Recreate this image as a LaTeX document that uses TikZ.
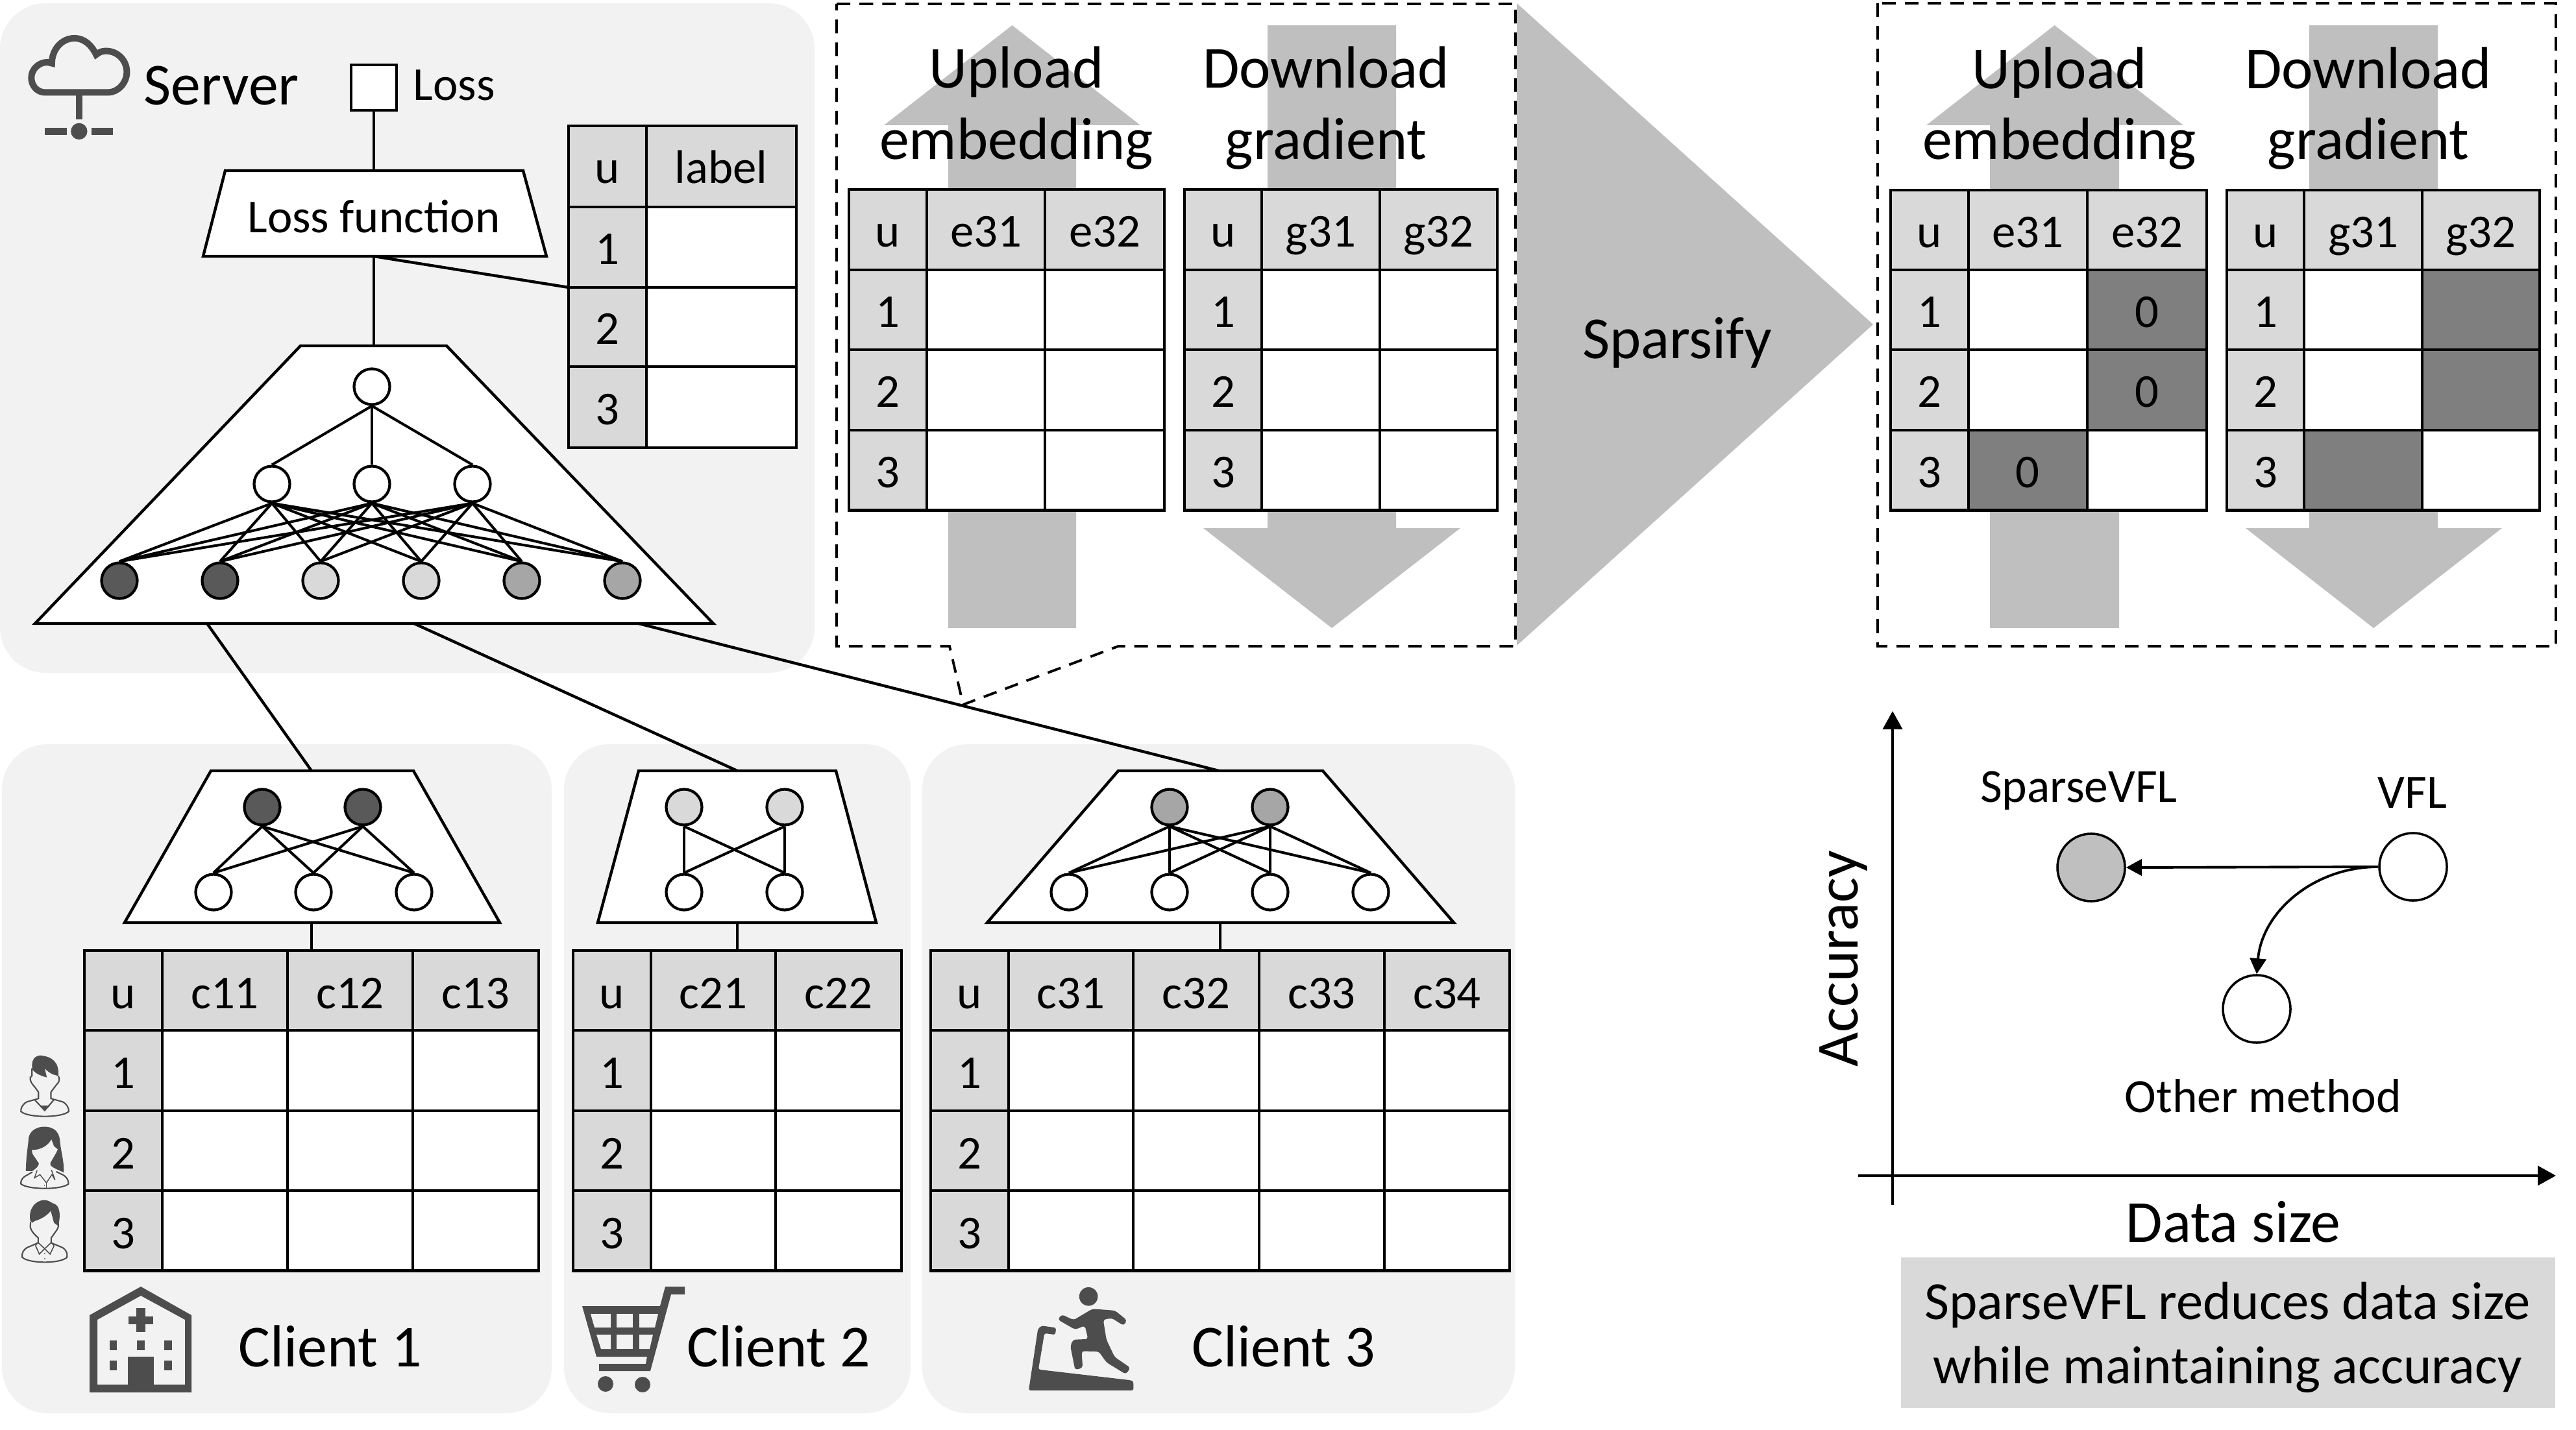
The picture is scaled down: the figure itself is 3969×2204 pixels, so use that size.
\documentclass[tikz,border=0pt]{standalone}
\usepackage{fontspec}
\setmainfont{Carlito}
\usetikzlibrary{arrows.meta}
\definecolor{panelc}{HTML}{F2F2F2}
\definecolor{hdrc}{HTML}{D9D9D9}
\definecolor{iconc}{HTML}{4D4D4D}
\definecolor{arrowc}{HTML}{BFBFBF}
\definecolor{zeroc}{HTML}{7F7F7F}
\definecolor{darkn}{HTML}{595959}
\definecolor{midn}{HTML}{A6A6A6}
\newcommand{\fsL}{\fontsize{26.1pt}{30pt}\selectfont}
\newcommand{\fsM}{\fontsize{20.7pt}{24pt}\selectfont}
\newcommand{\fsG}{\fontsize{20.9pt}{24pt}\selectfont}
\newcommand{\fsB}{\fontsize{23.5pt}{28pt}\selectfont}
\tikzset{
  panel/.style={fill=panelc,rounded corners=0.7cm},
  ln/.style={draw=black,line width=1.25pt},
  tl/.style={draw=black,line width=1.3pt},
  nn/.style={circle,draw=black,line width=1.2pt,fill=white,minimum size=0.55cm,inner sep=0pt},
  ptnode/.style={circle,draw=black,line width=1pt,fill=white,minimum size=1.04cm,inner sep=0pt},
  txtL/.style={inner sep=0pt,anchor=base,font=\fsL,yshift=-0.035cm},
  txtM/.style={inner sep=0pt,anchor=base,font=\fsM,yshift=-0.03cm},
  txtG/.style={inner sep=0pt,anchor=base,font=\fsG,yshift=-0.04cm},
  txtB/.style={inner sep=0pt,anchor=base,font=\fsB,yshift=-0.045cm},
  garrow/.style={fill=arrowc},
  dashbox/.style={draw=black,line width=1.1pt,dash pattern=on 6pt off 4pt},
  axis/.style={draw=black,line width=1.1pt,-{Triangle[length=0.28cm,width=0.3cm]}},
  gline/.style={draw=black,line width=1.1pt,-{Triangle[length=0.24cm,width=0.25cm]}},
  icon/.style={fill=iconc},
  iconl/.style={draw=iconc,line width=0.6pt},
  tri/.style={x=0.003333cm,y=-0.003333cm}
}
% #1 xl, #2 xc, #3 xr, #4 cols a/b/label, #5-#8 row tops, #9 extra fills
\newcommand{\gtable}[9]{%
  \fill[white] (#1,#5) rectangle (#3,#8+123.5);
  \fill[hdrc] (#1,#5) rectangle (#3,#6);
  \fill[hdrc] (#1,#5) rectangle (#2,#8+123.5);
  #9
  \draw[tl] (#1,#6) -- (#3,#6) (#1,#7) -- (#3,#7) (#1,#8) -- (#3,#8);
  \gtablerest{#1}{#2}{#3}{#4}{#5}{#6}{#7}{#8}}
\newcommand{\gtablerest}[8]{%
  \draw[tl] (#1,#5) rectangle (#3,#8+123.5);
  \foreach \a/\b/\t in {#4} {
    \draw[tl] (\a,#5) -- (\a,#8+123.5);
    \node[txtM] (h#1-\t) at ({(\a+\b)/2},#5+86) {\t};
  }
  \node[txtM] (u#1) at ({(#1+#2)/2},#5+86) {u};
  \node[txtM] (r#1a) at ({(#1+#2)/2},#6+86) {1};
  \node[txtM] (r#1b) at ({(#1+#2)/2},#7+86) {2};
  \node[txtM] (r#1c) at ({(#1+#2)/2},#8+86) {3};
}
\begin{document}
\begin{tikzpicture}[x=0.01cm,y=-0.01cm]
\useasboundingbox (0,0) rectangle (3969,2204);
% panels
\fill[panel] (0,5) rectangle (1255,1037);
\fill[panel] (3,1147) rectangle (850,2178);
\fill[panel] (869,1147) rectangle (1403,2178);
\fill[panel] (1421,1147) rectangle (2334,2178);

% cloud icon
\begin{scope}[shift={(20,30)},tri]
  \draw[draw=iconc,line width=2.85pt] (150,338) .. controls (110,338) and (85,305) .. (85,270) .. controls (85,230) and (120,198) .. (160,198) -- (180,203) .. controls (180,140) and (225,87) .. (285,87) .. controls (330,87) and (365,120) .. (385,163) .. controls (400,150) and (415,146) .. (430,146) .. controls (485,146) and (527,190) .. (527,243) .. controls (527,295) and (485,338) .. (440,338) -- cycle;
  \fill[icon] (291,338) rectangle (321,462);
  \fill[icon] (306,518) circle (0.127cm);
  \fill[icon] (148,502) rectangle (248,535);
  \fill[icon] (363,502) rectangle (463,535);
\end{scope}
\node[txtL,anchor=base west] (server) at (221,158) {Server};
\node[draw=black,line width=1.25pt,fill=white,minimum width=0.7cm,minimum height=0.7cm,inner sep=0pt] (lossbox) at (576,135) {};
\node[txtM,anchor=base west] (losstxt) at (636,152) {Loss};

% loss function
\coordinate (lfT) at (576,263);
\coordinate (lfB) at (576,395);
\coordinate (srvT) at (576,533);
\coordinate (lblL) at (876,443);
\draw[ln] (lossbox.south) -- (lfT);
\draw[ln] (lfB) -- (srvT);
\draw[ln,fill=white] (347,263) -- (806,263) -- (842,395) -- (313,395) -- cycle;
\node[txtM] (lftext) at (576,356) {Loss function};
\draw[ln] (lfB) -- (lblL);

% label table
\fill[white] (876,194) rectangle (1227,690);
\fill[hdrc] (876,194) rectangle (1227,319);
\fill[hdrc] (876,194) rectangle (996,690);
\draw[tl] (876,194) rectangle (1227,690);
\draw[tl] (996,194) -- (996,690);
\draw[tl] (876,319) -- (1227,319) (876,443) -- (1227,443) (876,565) -- (1227,565);
\node[txtM] (lu) at (936,280) {u};
\node[txtM] (ll) at (1111,280) {label};
\node[txtM] (l1) at (936,405) {1};
\node[txtM] (l2) at (936,528) {2};
\node[txtM] (l3) at (936,652) {3};

% server model
\draw[ln,fill=white] (463,533) -- (688,533) -- (1099,961) -- (54,961) -- cycle;
\node[nn] (top) at (573,596) {};
\node[nn] (m1) at (419,746) {};
\node[nn] (m2) at (573,746) {};
\node[nn] (m3) at (728,746) {};
\node[nn,fill=darkn] (b1) at (184,895) {};
\node[nn,fill=darkn] (b2) at (339,895) {};
\node[nn,fill=hdrc] (b3) at (494,895) {};
\node[nn,fill=hdrc] (b4) at (649,895) {};
\node[nn,fill=midn] (b5) at (804,895) {};
\node[nn,fill=midn] (b6) at (959,895) {};
\foreach \m in {m1,m2,m3} {
  \draw[ln,line width=1.15pt] (top.south) -- (\m.north);
  \foreach \b in {b1,b2,b3,b4,b5,b6}
    \draw[ln,line width=1.15pt] (\m.south) -- (\b.north);
}

% connections to clients
\coordinate (s1) at (319,961);
\coordinate (s2) at (638,961);
\coordinate (s3) at (984,961);
\coordinate (c1in) at (480,1188);
\coordinate (c2in) at (1136,1188);
\coordinate (c3in) at (1878,1188);
\draw[ln] (s1) -- (c1in);
\draw[ln] (s2) -- (c2in);
\draw[ln] (s3) -- (c3in);

% client 1
\draw[ln,fill=white] (325,1188) -- (637,1188) -- (770,1422) -- (192,1422) -- cycle;
\node[nn,fill=darkn] (a1) at (404,1244) {};
\node[nn,fill=darkn] (a2) at (559,1244) {};
\node[nn] (a3) at (329,1375) {};
\node[nn] (a4) at (483,1375) {};
\node[nn] (a5) at (638,1375) {};
\foreach \i in {a1,a2} \foreach \j in {a3,a4,a5} \draw[ln,line width=1.15pt] (\i.south) -- (\j.north);
\coordinate (c1b) at (480,1422);
\coordinate (c1t) at (480,1465);
\draw[ln] (c1b) -- (c1t);
\gtable{130}{250}{830}{250/443/c11,443/636/c12,636/830/c13}{1465}{1588}{1712}{1835}{}

% client 2
\draw[ln,fill=white] (984,1188) -- (1288,1188) -- (1350,1422) -- (921,1422) -- cycle;
\node[nn,fill=hdrc] (d1) at (1054,1244) {};
\node[nn,fill=hdrc] (d2) at (1209,1244) {};
\node[nn] (d3) at (1054,1375) {};
\node[nn] (d4) at (1209,1375) {};
\foreach \i in {d1,d2} \foreach \j in {d3,d4} \draw[ln,line width=1.15pt] (\i.south) -- (\j.north);
\coordinate (c2b) at (1136,1422);
\coordinate (c2t) at (1136,1465);
\draw[ln] (c2b) -- (c2t);
\gtable{883}{1003}{1389}{1003/1195/c21,1195/1389/c22}{1465}{1588}{1712}{1835}{}

% client 3
\draw[ln,fill=white] (1723,1188) -- (2038,1188) -- (2240,1422) -- (1521,1422) -- cycle;
\node[nn,fill=midn] (e1) at (1802,1244) {};
\node[nn,fill=midn] (e2) at (1957,1244) {};
\node[nn] (e3) at (1647,1375) {};
\node[nn] (e4) at (1802,1375) {};
\node[nn] (e5) at (1957,1375) {};
\node[nn] (e6) at (2112,1375) {};
\foreach \i in {e1,e2} \foreach \j in {e3,e4,e5,e6} \draw[ln,line width=1.15pt] (\i.south) -- (\j.north);
\coordinate (c3b) at (1880,1422);
\coordinate (c3t) at (1880,1465);
\draw[ln] (c3b) -- (c3t);
\gtable{1434}{1554}{2326}{1554/1746/c31,1746/1940/c32,1940/2133/c33,2133/2326/c34}{1465}{1588}{1712}{1835}{}

% client labels
\node[txtL,anchor=base west] (cl1) at (367,2103) {Client 1};
\node[txtL,anchor=base west] (cl2) at (1058,2103) {Client 2};
\node[txtL,anchor=base west] (cl3) at (1836,2103) {Client 3};

% hospital
\fill[icon,even odd rule] (138,2027) -- (217,1983) -- (295,2027) -- (295,2146) -- (138,2146) -- cycle
  (150,2034) -- (217,1997) -- (285,2034) -- (285,2134) -- (150,2134) -- cycle;
\fill[icon] (210,2016) rectangle (224,2053);
\fill[icon] (198,2029) rectangle (236,2041);
\fill[icon] (169,2066) rectangle (180,2081);
\fill[icon] (211,2066) rectangle (223,2081);
\fill[icon] (253,2066) rectangle (265,2081);
\fill[icon] (169,2097) rectangle (180,2112);
\fill[icon] (253,2097) rectangle (265,2112);
\fill[icon] (197,2091) rectangle (237,2134);

% cart
\fill[icon] (897,2013) -- (1017,2013) -- (1025,1983) -- (1055,1983) -- (1055,1995) -- (1034,1995) -- (1002,2113) -- (923,2113) -- (923,2102) -- (995,2102) -- (997,2091) -- (919,2091) -- cycle;
\fill[panelc] (910,2025) -- (941,2025) -- (941,2046) -- (916,2046) -- cycle;
\fill[panelc] (950,2025) rectangle (975,2046);
\fill[panelc] (985,2025) -- (1014,2025) -- (1009,2046) -- (985,2046) -- cycle;
\fill[panelc] (919,2057) -- (941,2057) -- (941,2079) -- (926,2079) -- cycle;
\fill[panelc] (950,2057) rectangle (975,2079);
\fill[panelc] (985,2057) -- (1006,2057) -- (1001,2079) -- (985,2079) -- cycle;
\fill[icon] (933,2133) circle (0.12cm);
\fill[icon] (990,2134) circle (0.12cm);

% treadmill
\begin{scope}[shift={(1550,1960)},tri]
  \fill[icon] (382,115) circle (0.143cm);
  \fill[icon,rounded corners=0.03cm] (150,453) -- (580,503) -- (590,510) -- (590,550) -- (105,550) -- (148,265) -- (165,250) -- (232,260) -- (228,292) -- (178,285) -- cycle;
  \fill[icon,rounded corners=0.04cm] (400,172) -- (505,180) -- (560,225) -- (545,250) -- (490,215) -- (450,222) -- (465,315) -- (503,395) -- (576,445) -- (555,475) -- (465,420) -- (430,370) -- (350,368) -- (355,445) -- (320,455) -- (298,345) -- (310,315) -- (380,312) -- (365,250) -- (320,268) -- (240,222) -- (258,198) -- (313,224) -- cycle;
\end{scope}

% person 1
\begin{scope}[shift={(0,1600)},tri]
  \fill[icon] (150,145) .. controls (145,115) and (150,85) .. (185,80) .. controls (245,85) and (275,115) .. (270,175) .. controls (245,170) and (225,160) .. (207,140) -- (217,182) .. controls (190,175) and (165,165) .. (150,145) -- cycle;
  \draw[iconl] (148,140) -- (148,175) -- (140,182) .. controls (138,200) and (150,215) .. (160,225) -- (178,250) -- (178,280) -- (125,295) .. controls (105,305) and (95,325) .. (97,340) .. controls (130,370) and (285,370) .. (318,340) .. controls (320,325) and (310,305) .. (290,295) -- (236,280) -- (236,250) -- (262,215) .. controls (272,205) and (280,195) .. (270,175);
  \draw[iconl] (160,285) -- (207,335) -- (250,285);
  \fill[icon] (183,312) -- (207,337) -- (232,312) -- cycle;
\end{scope}
% person 2
\begin{scope}[shift={(0,1650)},tri]
  \fill[icon] (120,465) .. controls (120,400) and (130,350) .. (133,310) .. controls (140,275) and (175,260) .. (205,260) .. controls (245,260) and (272,280) .. (277,320) .. controls (280,370) and (298,420) .. (295,472) -- (258,455) .. controls (240,445) and (230,440) .. (233,428) -- (258,385) -- (268,365) -- (250,350) -- (238,318) .. controls (225,345) and (190,368) .. (147,368) -- (150,385) -- (180,430) .. controls (178,445) and (165,455) .. (150,465) -- cycle;
  \draw[iconl] (150,470) -- (115,490) .. controls (100,500) and (95,515) .. (97,525) .. controls (130,553) and (285,553) .. (317,525) .. controls (318,510) and (310,495) .. (295,485) -- (260,468);
  \draw[iconl,line width=0.4pt] (172,462) -- (160,497) -- (185,482) -- (215,520) -- (240,482) -- (255,507) -- (238,460);
  \draw[iconl,line width=0.4pt] (215,520) -- (215,545);
  \fill[icon] (206,533) circle (0.008cm);
\end{scope}
% person 3
\begin{scope}[shift={(0,1650)},tri]
  \fill[icon] (140,695) .. controls (130,640) and (165,600) .. (205,600) .. controls (225,600) and (235,610) .. (245,615) .. controls (270,620) and (280,650) .. (275,690) -- (270,720) -- (250,705) -- (235,650) .. controls (215,675) and (185,690) .. (160,697) -- (150,705) -- cycle;
  \draw[iconl] (142,700) -- (140,725) .. controls (145,745) and (160,760) .. (177,775) -- (177,798) -- (125,820) .. controls (108,830) and (100,845) .. (103,865) .. controls (135,895) and (280,895) .. (310,865) .. controls (314,845) and (305,830) .. (290,820) -- (237,798) -- (237,775) -- (262,740) .. controls (272,725) and (272,715) .. (270,705);
  \draw[iconl,line width=0.45pt] (172,797) -- (165,812) -- (182,850) -- (207,825) -- (232,850) -- (250,812) -- (240,797);
  \draw[iconl,line width=0.45pt] (177,797) -- (207,825) -- (237,797);
  \fill[icon] (207,848) circle (0.01cm);
  \fill[icon] (207,871) circle (0.01cm);
\end{scope}

% ---- middle block
\fill[arrowc] (2337,5) -- (2886,500) -- (2337,995) -- cycle;
\fill[garrow] (1559.5,39) -- (1757,193) -- (1658,193) -- (1658,968) -- (1461,968) -- (1461,193) -- (1362,193) -- cycle;
\fill[garrow] (1953,39) -- (2151,39) -- (2151,814) -- (2250,814) -- (2052,968) -- (1854,814) -- (1953,814) -- cycle;
\gtable{1308}{1428}{1794}{1428/1610/e31,1610/1794/e32}{292}{416}{539}{663}{}
\gtable{1825}{1944}{2307}{1944/2126/g31,2126/2307/g32}{292}{416}{539}{663}{}
\node[txtL] (up1) at (1566,132) {Upload};
\node[txtL] (up2) at (1566,242) {embedding};
\node[txtL] (dl1) at (2043,132) {Download};
\node[txtL] (dl2) at (2043,242) {gradient};
\coordinate (tip) at (1484,1086);
\draw[dashbox] (1289,6) -- (2335,6) -- (2335,996) -- (1723,996) -- (tip) -- (1463,996) -- (1289,996) -- cycle;
\node[txtL] (spars) at (2584,549) {Sparsify};

% ---- right block
\fill[garrow] (3165.5,39) -- (3364,193) -- (3265,193) -- (3265,968) -- (3066,968) -- (3066,193) -- (2968,193) -- cycle;
\fill[garrow] (3558,39) -- (3756,39) -- (3756,814) -- (3855,814) -- (3657,968) -- (3460,814) -- (3558,814) -- cycle;
\gtable{2913}{3033}{3400}{3033/3216/e31,3216/3400/e32}{293}{416}{539}{663}{%
  \fill[zeroc] (3216,416) rectangle (3400,663);
  \fill[zeroc] (3033,663) rectangle (3216,786);}
\gtable{3431}{3550}{3913}{3550/3732/g31,3732/3913/g32}{293}{416}{539}{663}{%
  \fill[zeroc] (3732,416) rectangle (3913,663);
  \fill[zeroc] (3550,663) rectangle (3732,786);}
\node[txtM] (z1) at (3308,502) {0};
\node[txtM] (z2) at (3308,625) {0};
\node[txtM] (z3) at (3124,749) {0};
\node[txtL] (up3) at (3173,133) {Upload};
\node[txtL] (up4) at (3173,242) {embedding};
\node[txtL] (dl3) at (3649,133) {Download};
\node[txtL] (dl4) at (3649,242) {gradient};
\draw[dashbox] (2893,5) rectangle (3938,996);

% ---- chart
\coordinate (yB) at (2916,1857);
\coordinate (yT) at (2916,1096);
\coordinate (xL) at (2863,1812);
\coordinate (xR) at (3938,1812);
\draw[axis] (yB) -- (yT);
\draw[axis] (xL) -- (xR);
\node[ptnode,fill=arrowc] (sv) at (3222,1337) {};
\node[ptnode] (vfl) at (3718,1336) {};
\node[ptnode] (oth) at (3477,1555) {};
\draw[gline] (vfl.west) -- (sv.east);
\draw[gline] (vfl.west) to[out=180,in=85] (oth.north);
\node[txtG] (svt) at (3203,1232) {SparseVFL};
\node[txtG] (vflt) at (3717,1241) {VFL};
\node[txtG] (otht) at (3487,1710) {Other method};
\node[txtL] (xt) at (3441,1911) {Data size};
\node[txtL,rotate=90] (yt) at (2862,1474) {Accuracy};
\fill[hdrc] (2929,1938) rectangle (3937,2170);
\node[txtB] (msg1) at (3432,2029) {SparseVFL reduces data size};
\node[txtB] (msg2) at (3432,2128) {while maintaining accuracy};
\end{tikzpicture}
\end{document}
